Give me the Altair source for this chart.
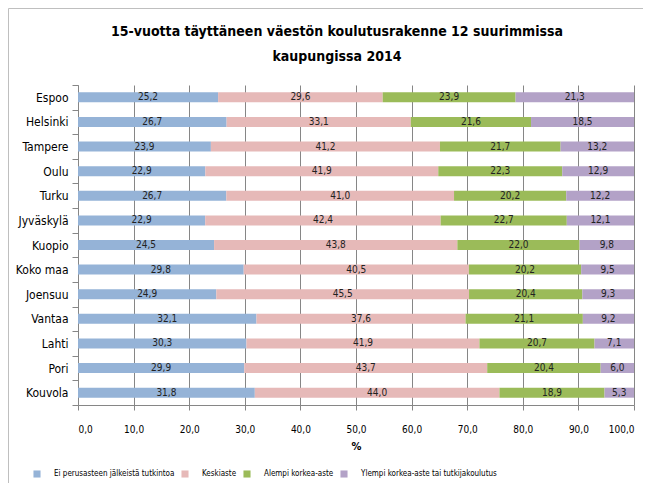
import altair as alt
import pandas as pd

cities = ["Espoo", "Helsinki", "Tampere", "Oulu", "Turku", "Jyväskylä", "Kuopio",
          "Koko maa", "Joensuu", "Vantaa", "Lahti", "Pori", "Kouvola"]
series = ["Ei perusasteen jälkeistä tutkintoa", "Keskiaste", "Alempi korkea-aste",
          "Ylempi korkea-aste tai tutkijakoulutus"]
colors = ["#95B3D7", "#E6B9B8", "#9BBB59", "#B3A2C7"]

perus = [25.2, 26.7, 23.9, 22.9, 26.7, 22.9, 24.5, 29.8, 24.9, 32.1, 30.3, 29.9, 31.8]
keski = [29.6, 33.1, 41.2, 41.9, 41.0, 42.4, 43.8, 40.5, 45.5, 37.6, 41.9, 43.7, 44.0]
alempi = [23.9, 21.6, 21.7, 22.3, 20.2, 22.7, 22.0, 20.2, 20.4, 21.1, 20.7, 20.4, 18.9]
ylempi = [21.3, 18.5, 13.2, 12.9, 12.2, 12.1, 9.8, 9.5, 9.3, 9.2, 7.1, 6.0, 5.3]

rows = []
for i, c in enumerate(cities):
    for j, (s, vals) in enumerate(zip(series, [perus, keski, alempi, ylempi])):
        rows.append({"city": c, "series": s, "order": j, "v": vals[i]})
df = pd.DataFrame(rows)

FONT = "'DejaVu Sans Condensed', 'Liberation Sans Narrow', 'Liberation Sans'"

base = alt.Chart(df).transform_joinaggregate(
    total="sum(v)", groupby=["city"]
).transform_calculate(
    p="datum.v / datum.total * 100"
).transform_stack(
    stack="p", as_=["x0", "x1"], groupby=["city"], sort=[alt.SortField("order")]
).transform_calculate(
    mid="(datum.x0 + datum.x1) / 2",
    lab="replace(format(datum.v, '.1f'), '.', ',')"
)

yenc = alt.Y("city:N", sort=cities, title=None,
             scale=alt.Scale(paddingInner=0.0, paddingOuter=0.0),
             axis=alt.Axis(bandPosition=0, tickBand="extent", labelFont=FONT,
                           labelFontSize=12, labelColor="#000000",
                           labelPadding=4, tickSize=6, tickColor="#868686",
                           domainColor="#868686", grid=False))

bars = base.mark_bar(size=10).encode(
    x=alt.X("x0:Q", scale=alt.Scale(domain=[0, 100], nice=False),
            title="%",
            axis=alt.Axis(values=list(range(0, 101, 10)),
                          labelExpr="replace(format(datum.value, '.1f'), '.', ',')",
                          labelFont=FONT, labelFontSize=10, labelColor="#000000",
                          labelPadding=14, tickSize=5, tickColor="#868686",
                          domainColor="#868686", grid=True, gridColor="#868686",
                          titleFont=FONT, titleFontSize=11, titleFontWeight="bold",
                          titlePadding=6, titleColor="#000000")),
    x2="x1:Q",
    y=yenc,
    color=alt.Color("series:N", sort=series,
                    scale=alt.Scale(domain=series, range=colors),
                    legend=alt.Legend(title=None, orient="none", direction="horizontal",
                                      legendX=-45, legendY=385, columns=4,
                                      symbolType="square", symbolSize=50,
                                      symbolStrokeWidth=0, labelFont=FONT,
                                      labelFontSize=8, labelColor="#000000",
                                      labelOffset=13, columnPadding=6,
                                      labelLimit=400)),
    order=alt.Order("order:Q"),
)

texts = base.mark_text(font=FONT, fontSize=10, color="#222222", baseline="middle").encode(
    x=alt.X("mid:Q"),
    y=alt.Y("city:N", sort=cities),
    text="lab:N",
)

frame = alt.Chart(pd.DataFrame({"a": [0]})).mark_rect(
    fill=None, stroke="#BFBFBF", strokeWidth=1, clip=False
).encode(x=alt.value(-69.5), x2=alt.value(700), y=alt.value(-76.5), y2=alt.value(600))

chart = alt.layer(frame, bars, texts).properties(
    width=556, height=320,
    title=alt.TitleParams(
        ["15-vuotta täyttäneen väestön koulutusrakenne 12 suurimmissa", "kaupungissa  2014"],
        font=FONT, fontSize=14, fontWeight="bold", color="#000000",
        anchor="middle", dx=-19, offset=-56, lineHeight=25),
    autosize=alt.AutoSizeParams(type="none"),
    padding={"left": 70, "top": 77, "right": 9, "bottom": 78},
).configure_view(stroke=None)

chart.save("out.html", embed_options={"renderer": "svg", "actions": False})
